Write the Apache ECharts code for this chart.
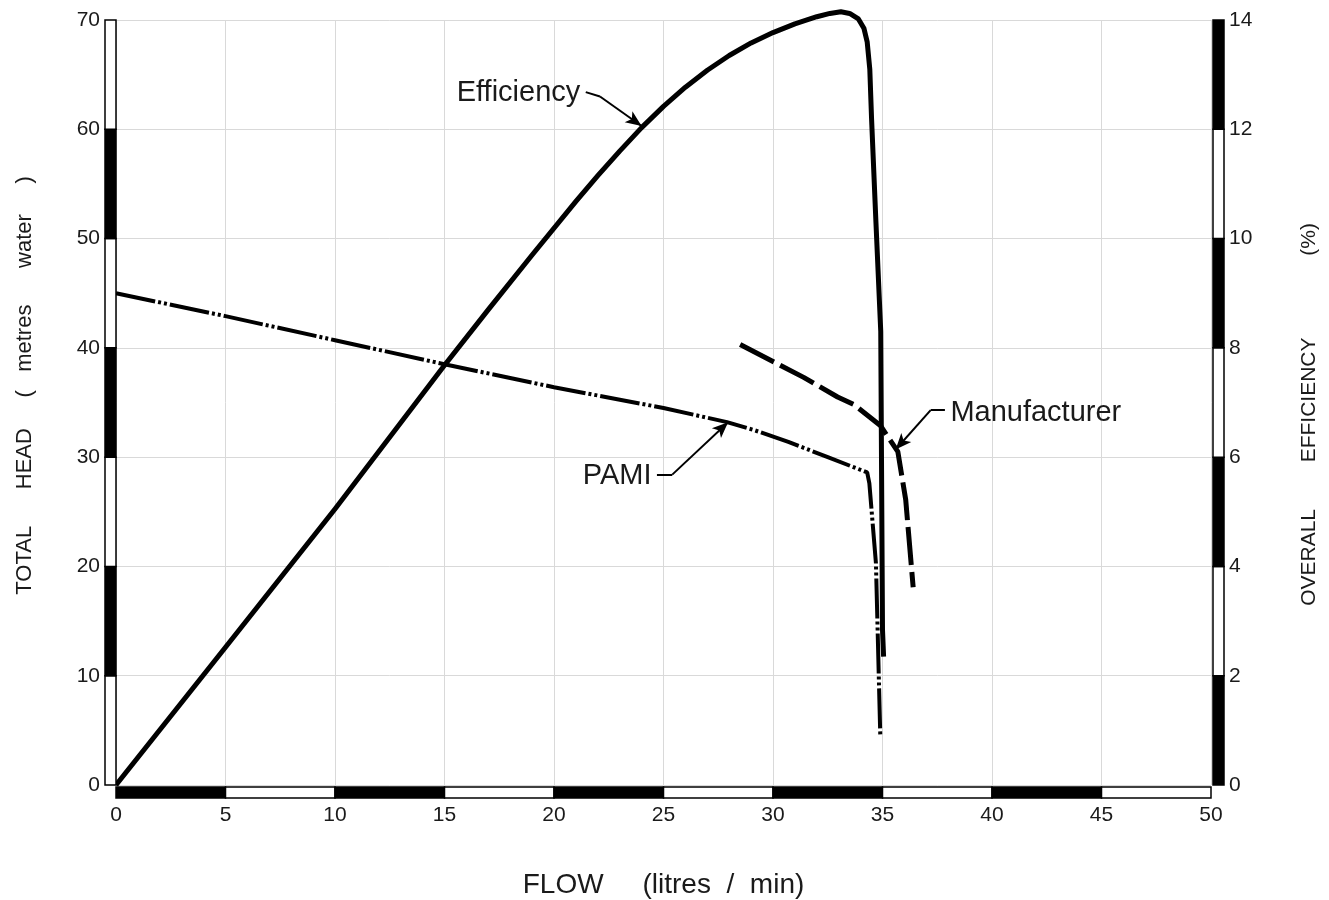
<!DOCTYPE html>
<html><head><meta charset="utf-8">
<script src="https://cdn.jsdelivr.net/npm/echarts@6/dist/echarts.min.js"></script>
<style>html,body{margin:0;padding:0;background:#fff}#c{width:1329px;height:900px}</style>
</head><body><div id="c"></div>
<script>
// ---- data (flow l/min, value) ----
const efficiency = [[0,0],[5,2.52],[10,5.05],[15,7.68],[17,8.7],[19,9.7],[21,10.68],[22,11.15],[23,11.6],[24,12.03],[25,12.42],[26,12.77],[27,13.08],[28,13.35],[29,13.58],[30,13.77],[31,13.93],[32,14.06],[32.6,14.12],[33.1,14.15],[33.5,14.12],[33.9,14.02],[34.15,13.85],[34.3,13.6],[34.42,13.1],[34.5,12.2],[34.7,10.3],[34.92,8.3],[35.0,2.84],[35.05,2.35]];
const pami = [[0,45.0],[5,42.9],[10,40.7],[15,38.5],[20,36.4],[25,34.5],[27.9,33.2],[29.1,32.5],[30.7,31.4],[32.5,30.0],[34.3,28.6],[34.4,27.6],[34.7,20.3],[34.8,12.4],[34.9,4.4]];
const manufacturer = [[28.5,40.3],[31.4,37.3],[32.95,35.5],[33.7,34.8],[34.9,32.9],[35.7,30.5],[36.06,26.1],[36.4,18.1]];
const flowRange = [0, 50, 5];
const headRange = [0, 70, 10];
const effRange = [0, 14, 2];
const xBarPattern = ['black','white','black','white','black','white','black','white','black','white'];
const leftBarPattern = ['white','black','white','black','white','black','white'];
const rightBarPattern = ['black','white','black','white','black','white','black'];
const labels = [
  {text:'Efficiency', at:[21.2,63.35], align:'right'},
  {text:'PAMI', at:[24.45,28.25], align:'right'},
  {text:'Manufacturer', at:[38.1,34.0], align:'left'}
];
const arrows = [
  [[21.45,63.4],[22.1,63.0],[24.0,60.3]],
  [[24.7,28.4],[25.4,28.4],[27.95,33.2]],
  [[37.85,34.3],[37.2,34.3],[35.6,30.7]]
];
const names = {
  x:'FLOW     (litres  /  min)',
  left:'TOTAL      HEAD     (   metres      water     )',
  right:'OVERALL        EFFICIENCY              (%)'
};

const FONT = '"Liberation Sans", Arial, Helvetica, sans-serif';
const TXT = '#1a1a1a';
const chart = echarts.init(document.getElementById('c'));

function ml(path){
  const out=[];
  for(let i=0;i<path.length-1;i++){
    const last = i===path.length-2;
    out.push([{coord:path[i],symbol:'none'},{coord:path[i+1],symbol:last?'arrow':'none',symbolSize:last?[10,16]:0}]);
  }
  return out;
}

chart.setOption({
  animation:false,
  backgroundColor:'#fff',
  grid:{left:116,right:118,top:20,bottom:115,outerBoundsMode:'none',containLabel:false},
  xAxis:{type:'value',min:flowRange[0],max:flowRange[1],interval:flowRange[2],
    axisLine:{show:false},axisTick:{show:false},
    axisLabel:{fontSize:21,color:TXT,margin:20,fontFamily:FONT},
    splitLine:{lineStyle:{color:'#d9d9d9',width:1}},
    name:names.x,nameLocation:'middle',nameGap:86,nameTextStyle:{fontSize:28,color:TXT,fontFamily:FONT}},
  yAxis:[
    {type:'value',min:headRange[0],max:headRange[1],interval:headRange[2],position:'left',
     axisLine:{show:false},axisTick:{show:false},
     axisLabel:{fontSize:21,color:TXT,margin:16,fontFamily:FONT},
     splitLine:{lineStyle:{color:'#d9d9d9',width:1}},
     name:names.left,nameLocation:'middle',nameGap:80,nameTextStyle:{fontSize:22,color:TXT,fontFamily:FONT,padding:[0,0,0,34]}},
    {type:'value',min:effRange[0],max:effRange[1],interval:effRange[2],position:'right',
     axisLine:{show:false},axisTick:{show:false},
     axisLabel:{fontSize:21,color:TXT,margin:18,fontFamily:FONT},
     splitLine:{show:false},
     name:names.right,nameLocation:'middle',nameGap:88,nameRotate:90,nameTextStyle:{fontSize:21,color:TXT,fontFamily:FONT,padding:[0,24,0,0]}}
  ],
  series:[
    {name:'Efficiency',type:'line',yAxisIndex:1,data:efficiency,showSymbol:false,clip:false,
     lineStyle:{color:'#000',width:5,join:'round'},z:5},
    {name:'PAMI',type:'line',yAxisIndex:0,data:pami,showSymbol:false,
     lineStyle:{color:'#000',width:4,type:[40,3,3,3,3,3]},z:4,
     markLine:{silent:true,animation:false,label:{show:false},lineStyle:{color:'#000',width:2,type:'solid'},
       data:[].concat(ml(arrows[0]),ml(arrows[1]),ml(arrows[2]))}},
    {name:'Manufacturer',type:'line',yAxisIndex:0,data:manufacturer,showSymbol:false,
     lineStyle:{color:'#000',width:5,type:[38,7]},z:4}
  ]
});

function p(x,y,ai){return chart.convertToPixel({xAxisIndex:0,yAxisIndex:ai||0},[x,y]);}
const g=[];
for(let i=0;i<xBarPattern.length;i++){
  const a=p(i*flowRange[2],0), b=p((i+1)*flowRange[2],0);
  g.push({type:'rect',shape:{x:a[0],y:a[1]+2,width:b[0]-a[0],height:11},style:{fill:xBarPattern[i],stroke:'#000',lineWidth:1.5},z:10});
}
for(let i=0;i<leftBarPattern.length;i++){
  const a=p(0,i*headRange[2]), b=p(0,(i+1)*headRange[2]);
  g.push({type:'rect',shape:{x:a[0]-11,y:b[1],width:11,height:a[1]-b[1]},style:{fill:leftBarPattern[i],stroke:'#000',lineWidth:1.5},z:10});
}
for(let i=0;i<rightBarPattern.length;i++){
  const a=p(flowRange[1],i*effRange[2],1), b=p(flowRange[1],(i+1)*effRange[2],1);
  g.push({type:'rect',shape:{x:a[0]+2,y:b[1],width:11,height:a[1]-b[1]},style:{fill:rightBarPattern[i],stroke:'#000',lineWidth:1.5},z:10});
}
labels.forEach(l=>{
  const q=p(l.at[0],l.at[1]);
  g.push({type:'text',x:q[0],y:q[1],style:{text:l.text,fontSize:29,fontFamily:FONT,fill:TXT,align:l.align,verticalAlign:'middle'},z:20});
});
chart.setOption({graphic:g});
</script></body></html>
